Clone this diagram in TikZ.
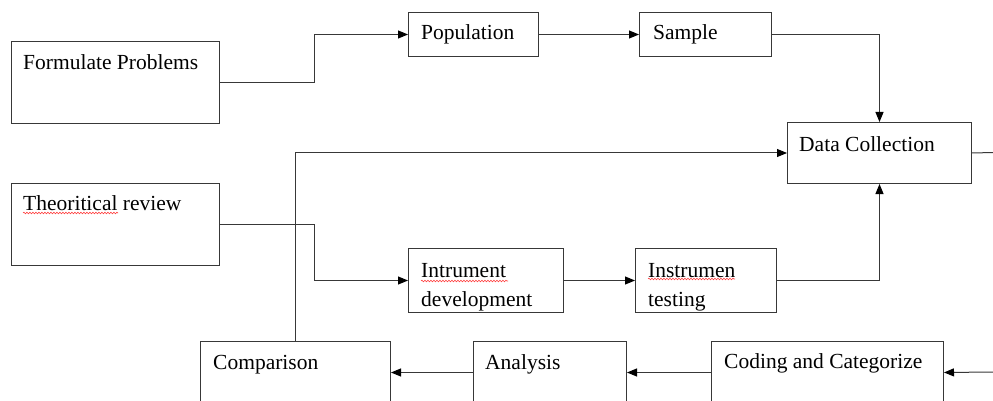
\documentclass[tikz,border=0pt]{standalone}
\usepackage{fontspec}
\setmainfont{Liberation Serif}
\usetikzlibrary{arrows.meta,decorations.pathmorphing}
\begin{document}
\begin{tikzpicture}[x=1pt,y=-1pt,
 box/.style={draw=black!78,line width=1pt,rectangle,inner sep=0pt,anchor=north west},
 txt/.style={anchor=base west,inner sep=0pt,font=\fontsize{21.5}{29}\selectfont},
 arr/.style={draw=black!78,line width=1pt,-{Triangle[length=10pt,width=8pt,color=black]}},
 ln/.style={draw=black!78,line width=1pt},
 spell/.style={draw=red!75,line width=0.6pt,decorate,decoration={snake,amplitude=0.8pt,segment length=3pt}}]
\useasboundingbox (0,0) rectangle (993,401);
\clip (0,0) rectangle (993,401);
% boxes
\node[box,minimum width=208pt,minimum height=82pt] (fp) at (11,41) {};
\node[box,minimum width=130pt,minimum height=44pt] (pop) at (408,12) {};
\node[box,minimum width=132pt,minimum height=44pt] (samp) at (639,12) {};
\node[box,minimum width=184pt,minimum height=61pt] (dc) at (787,122) {};
\node[box,minimum width=208pt,minimum height=82pt] (tr) at (11,183) {};
\node[box,minimum width=155pt,minimum height=64pt] (ins) at (408,248) {};
\node[box,minimum width=141pt,minimum height=64pt] (test) at (635,248) {};
\node[box,minimum width=190pt,minimum height=62pt] (comp) at (200,341) {};
\node[box,minimum width=153pt,minimum height=62pt] (ana) at (473,341) {};
\node[box,minimum width=232pt,minimum height=62pt] (code) at (711,341) {};
% texts
\node[txt] (tfp) at ([xshift=12pt,yshift=-29pt]fp.north west) {Formulate Problems};
\node[txt] (tpop) at ([xshift=13pt,yshift=-28pt]pop.north west) {Population};
\node[txt] (tsamp) at ([xshift=14pt,yshift=-28pt]samp.north west) {Sample};
\node[txt] (tdc) at ([xshift=12pt,yshift=-29pt]dc.north west) {Data Collection};
\node[txt] (ttr) at ([xshift=12pt,yshift=-27pt]tr.north west) {Theoritical review};
\node[txt] (tins1) at ([xshift=13pt,yshift=-29pt]ins.north west) {Intrument};
\node[txt] (tins2) at ([xshift=13pt,yshift=-58pt]ins.north west) {development};
\node[txt] (ttest1) at ([xshift=13pt,yshift=-29pt]test.north west) {Instrumen};
\node[txt] (ttest2) at ([xshift=13pt,yshift=-58pt]test.north west) {testing};
\node[txt] (tcomp) at ([xshift=13pt,yshift=-28pt]comp.north west) {Comparison};
\node[txt] (tana) at ([xshift=12pt,yshift=-28pt]ana.north west) {Analysis};
\node[txt] (tcode) at ([xshift=13pt,yshift=-27pt]code.north west) {Coding and Categorize};
% spell-check marks
\draw[spell] (23,213) -- (118,213);
\draw[spell] (421,281) -- (508,281);
\draw[spell] (648,279) -- (735,279);
% free ends
\coordinate (rightA) at (993,152.5);
\coordinate (rightB) at (993,372);
% connectors
\draw[arr] (fp.east) -- ++(94pt,0) |- (pop.west);
\draw[arr] (pop.east) -- (samp.west);
\draw[arr] (samp.east) -| (dc.north);
\draw[arr] (comp.north) |- (dc.west);
\draw[ln] (dc.east) -- (rightA);
\draw[arr] (tr.east) -- ++(94pt,0) |- (ins.west);
\draw[arr] (ins.east) -- (test.west);
\draw[arr] (test.east) -| (dc.south);
\draw[arr] (ana.west) -- (comp.east);
\draw[arr] (code.west) -- (ana.east);
\draw[arr] (rightB) -- (code.east);
\end{tikzpicture}
\end{document}
